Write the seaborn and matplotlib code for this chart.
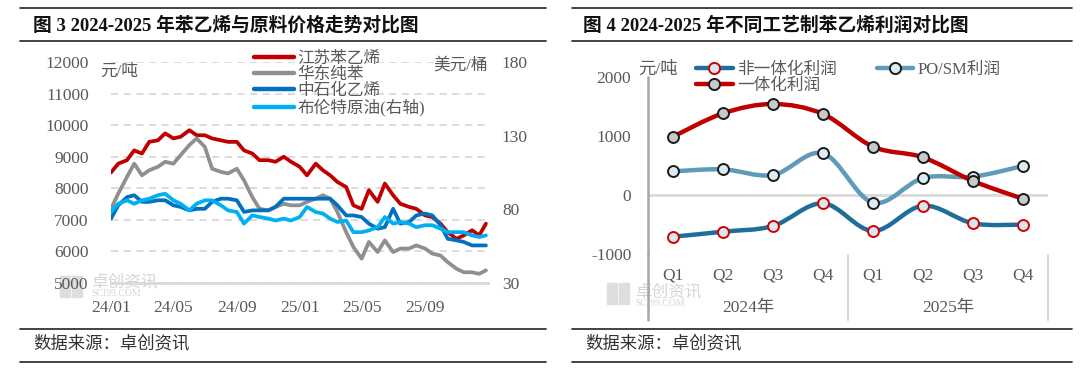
import numpy as np
import pandas as pd
import matplotlib.pyplot as plt
import matplotlib.dates as mdates
import seaborn as sns
from matplotlib.path import Path
from matplotlib.patches import PathPatch, Rectangle
from matplotlib.lines import Line2D

# ---- left chart: semi-monthly readings, 2024/01 - 2025/12 ----
dates = list(pd.date_range("2024-01-01", periods=48, freq="SMS")) + [pd.Timestamp("2025-12-28")]
styrene = [8500, 8780, 8890, 9200, 9100, 9470, 9520, 9740, 9580, 9630, 9840, 9680,
           9680, 9580, 9520, 9470, 9470, 9200, 9100, 8890, 8890, 8840, 9000, 8840,
           8680, 8410, 8780, 8570, 8410, 8200, 8040, 7460, 7350, 7940, 7570, 8150,
           7780, 7510, 7410, 7350, 7140, 7090, 6880, 6610, 6400, 6510, 6670, 6510, 6880]
benzene = [7350, 7830, 8360, 8780, 8410, 8570, 8680, 8840, 8780, 9050, 9370, 9580,
           9310, 8620, 8520, 8470, 8620, 8250, 7720, 7350, 7300, 7410, 7510, 7460,
           7460, 7570, 7670, 7780, 7670, 7250, 6610, 6140, 5770, 6300, 5980, 6350,
           5980, 6090, 6090, 6190, 6090, 5930, 5870, 5660, 5450, 5340, 5340, 5290, 5400]
ethylene = [7040, 7460, 7720, 7780, 7570, 7570, 7620, 7620, 7460, 7410, 7300, 7350,
            7350, 7570, 7670, 7670, 7620, 7250, 7300, 7300, 7300, 7410, 7670, 7670,
            7670, 7670, 7670, 7670, 7670, 7460, 7140, 7140, 7090, 6880, 6720, 6770,
            7350, 6880, 6930, 7140, 7200, 7140, 6830, 6400, 6350, 6300, 6190, 6190, 6190]
brent = [78.2, 83.8, 86.1, 83.8, 86.1, 87.2, 89.6, 90.6, 86.1, 83.8, 79.3, 83.8,
         86.1, 86.1, 82.7, 79.3, 78.2, 70.3, 75.9, 74.8, 73.7, 72.4, 73.7, 72.4,
         74.8, 81.6, 78.2, 77.1, 73.7, 71.4, 72.4, 64.5, 64.5, 65.7, 67.9, 74.8,
         70.3, 71.4, 70.3, 67.9, 69.2, 69.2, 66.9, 64.5, 64.5, 64.5, 62.3, 61.2, 62.3]
left_tick_dates = ["2024-01-01", "2024-05-01", "2024-09-01", "2025-01-01",
                   "2025-05-01", "2025-09-01", "2026-01-01"]
left_tick_labels = ["24/01", "24/05", "24/09", "25/01", "25/05", "25/09", ""]

# ---- right chart: quarterly profit ----
quarters = ["Q1", "Q2", "Q3", "Q4", "Q1", "Q2", "Q3", "Q4"]
years = ["2024年", "2025年"]
non_integrated = [-707, -622, -525, -141, -610, -181, -480, -503]
integrated = [988, 1384, 1542, 1373, 819, 638, 237, -65]
posm = [401, 435, 339, 706, -130, 288, 311, 492]

sns.set_theme(style="white")
plt.rcParams["font.family"] = ["Liberation Serif", "Noto Sans CJK SC"]
plt.rcParams["axes.unicode_minus"] = False

TXT = "#595959"
GRID = "#D9D9D9"
W, H = 1080, 373


def fx(px):
    return px / W


def fy(py):
    return 1 - py / H


def smooth_path(xs, ys):
    # Excel-style smoothed line (Catmull-Rom as cubic Bezier)
    pts = np.column_stack([xs, ys]).astype(float)
    ext = np.vstack([pts[0], pts, pts[-1]])
    verts = [pts[0]]
    codes = [Path.MOVETO]
    for i in range(len(pts) - 1):
        p0, p1, p2, p3 = ext[i], ext[i + 1], ext[i + 2], ext[i + 3]
        verts += [p1 + (p2 - p0) / 6, p2 - (p3 - p1) / 6, p2]
        codes += [Path.CURVE4] * 3
    return Path(verts, codes)


fig = plt.figure(figsize=(10.8, 3.73), dpi=100)

# ================= left chart =================
ax = fig.add_axes([fx(111), fy(283), (488 - 111) / W, (283 - 62) / H])
ax.set_facecolor("none")
df = pd.DataFrame({"date": dates, "styrene": styrene, "benzene": benzene,
                   "ethylene": ethylene, "brent": brent})
sns.lineplot(data=df, x="date", y="styrene", ax=ax, color="#C00000", lw=2.7, zorder=3)
sns.lineplot(data=df, x="date", y="benzene", ax=ax, color="#8F8F8F", lw=2.7, zorder=4)
sns.lineplot(data=df, x="date", y="ethylene", ax=ax, color="#0070C0", lw=2.7, zorder=5)
ax2 = ax.twinx()
ax2.set_facecolor("none")
sns.lineplot(data=df, x="date", y="brent", ax=ax2, color="#00B0F0", lw=2.7, zorder=6)

ax.set_xlim(pd.Timestamp("2024-01-01"), pd.Timestamp("2026-01-01"))
ax.set_ylim(5000, 12000)
ax.set_yticks(range(5000, 12001, 1000))
ax2.set_ylim(30, 180)
ax2.set_yticks([30, 80, 130, 180])
ax.set_xticks([mdates.date2num(pd.Timestamp(d)) for d in left_tick_dates])
ax.set_xticklabels(left_tick_labels)
ax.set_xlabel("")
ax.set_ylabel("")
ax2.set_ylabel("")
ax.yaxis.grid(True, color=GRID, lw=1.3, ls=(0, (4, 3)))
ax.xaxis.grid(False)
for a in (ax, ax2):
    for s in ("left", "right", "top", "bottom"):
        a.spines[s].set_visible(False)
ax.spines["bottom"].set_visible(True)
ax.spines["bottom"].set_color(GRID)
ax.spines["bottom"].set_linewidth(2)
ax.tick_params(axis="x", colors=GRID, length=5, width=1.5, direction="out", pad=7,
               labelcolor=TXT, labelsize=12.5)
ax.tick_params(axis="y", length=0, pad=16, labelcolor=TXT, labelsize=12.5)
ax2.tick_params(axis="y", length=0, pad=10, labelcolor=TXT, labelsize=12.5)

ax.text(-0.03, 0.955, "元/吨", transform=ax.transAxes, ha="left", va="center",
        fontsize=12, color=TXT)
ax.text(1.0, 0.982, "美元/桶", transform=ax.transAxes, ha="right", va="center",
        fontsize=12, color=TXT)

left_handles = [Line2D([], [], color=c, lw=3.2, solid_capstyle="round")
                for c in ("#C00000", "#8F8F8F", "#0070C0", "#00B0F0")]
left_labels = ["江苏苯乙烯", "华东纯苯", "中石化乙烯", "布伦特原油(右轴)"]
leg = ax2.legend(left_handles, left_labels, loc="upper left", bbox_to_anchor=(0.38, 1.05),
                 frameon=False, fontsize=12, handlelength=2.4, handletextpad=0.2,
                 labelspacing=0.0, borderaxespad=0, borderpad=0)
for t in leg.get_texts():
    t.set_color(TXT)

# ================= right chart =================
bx = fig.add_axes([fx(648), fy(254), 400 / W, (254 - 77) / H])
bx.set_facecolor("none")
xs = np.arange(len(quarters))
series = [
    (non_integrated, "非一体化利润", "#1F6E9A", "#DCE6EE", "#D00000", 2),
    (posm, "PO/SM利润", "#5D9BB8", "#DDEBF4", "#1A1A1A", 4),
    (integrated, "一体化利润", "#C00000", "#C9C9C9", "#1A1A1A", 6),
]
handles = {}
for vals, name, lc, mfc, mec, z in series:
    bx.add_patch(PathPatch(smooth_path(xs, vals), fill=False, edgecolor=lc, lw=3.2,
                           capstyle="round", joinstyle="round", zorder=z))
    sns.scatterplot(x=xs, y=vals, ax=bx, s=62, color=mfc, edgecolor=mec,
                    linewidth=1.4, zorder=z + 1)
    handles[name] = Line2D([], [], color=lc, lw=3.2, marker="o", ms=8, mfc=mfc,
                           mec=mec, mew=1.4)

bx.set_xlim(-0.5, 7.5)
bx.set_ylim(-1000, 2000)
bx.set_yticks([-1000, 0, 1000, 2000])
bx.set_xticks(xs)
bx.set_xticklabels(quarters)
bx.axhline(0, color=GRID, lw=2, zorder=1)
for s in ("right", "top", "bottom"):
    bx.spines[s].set_visible(False)
bx.spines["left"].set_color("#A6A6A6")
bx.spines["left"].set_linewidth(1.8)
bx.tick_params(axis="y", length=4, width=1.5, direction="in", colors="#A6A6A6",
               labelcolor=TXT, labelsize=12.5, pad=12)
bx.tick_params(axis="x", length=0, pad=10, labelcolor=TXT, labelsize=12.5)

low = -(320 - 254) / (254 - 77)
bx.plot([0, 0], [low, 0], transform=bx.transAxes, color="#A6A6A6", lw=1.8, clip_on=False)
xtrans = bx.get_xaxis_transform()
for sep in (3.5, 7.5):
    bx.plot([sep, sep], [-0.005, low], transform=xtrans, color=GRID, lw=1.5, clip_on=False)
for i, yr in enumerate(years):
    bx.text(1.5 + 4 * i, -(308 - 254) / (254 - 77), yr, transform=xtrans, ha="center",
            va="center", fontsize=12.5, color=TXT)

bx.text(-0.025, 1.04, "元/吨", transform=bx.transAxes, ha="left", va="center",
        fontsize=12.5, color=TXT)
order = ["非一体化利润", "一体化利润", "PO/SM利润"]
leg2 = bx.legend([handles[n] for n in order], order, loc="upper left", ncol=2,
                 bbox_to_anchor=(0.12, 1.085), frameon=False, fontsize=12,
                 handlelength=2.2, handletextpad=0.25, labelspacing=0.0,
                 columnspacing=2.4, borderaxespad=0, borderpad=0)
for t in leg2.get_texts():
    t.set_color(TXT)

# ================= frame, titles, sources, watermarks =================
for x0, x1 in ((20, 546), (572, 1072)):
    for yy in (8, 41, 329, 362):
        fig.add_artist(Line2D([fx(x0), fx(x1)], [fy(yy), fy(yy)], color="#222222", lw=1.2))

fig.text(fx(33), fy(25), "图 3 2024-2025 年苯乙烯与原料价格走势对比图", fontsize=13.5,
         fontweight="bold", va="center", ha="left", color="#111111")
fig.text(fx(583), fy(25), "图 4 2024-2025 年不同工艺制苯乙烯利润对比图", fontsize=13.5,
         fontweight="bold", va="center", ha="left", color="#111111")
for x0 in (33, 585):
    fig.text(fx(x0), fy(344), "数据来源：卓创资讯", fontsize=12.5, va="center",
             ha="left", color="#333333")

# faint watermark logos
for lx, ly, tx, ty1, ty2 in ((60, 276, 91, 282, 293), (607, 283, 635, 292, 303)):
    for dx in (0, 12):
        for dy in (0, 11):
            fig.add_artist(Rectangle((fx(lx + dx), fy(ly + dy + 10)), 10 / W, 10 / H,
                                     transform=fig.transFigure, color="#DEDEDE",
                                     zorder=-1))
    fig.text(fx(tx), fy(ty1), "卓创资讯", fontsize=12, color="#D6D6D6",
             va="center", ha="left", zorder=-1)
    fig.text(fx(tx), fy(ty2), "SCI99.COM", fontsize=7, color="#D6D6D6",
             va="center", ha="left", zorder=-1)

fig.savefig("out.png", dpi=100)
